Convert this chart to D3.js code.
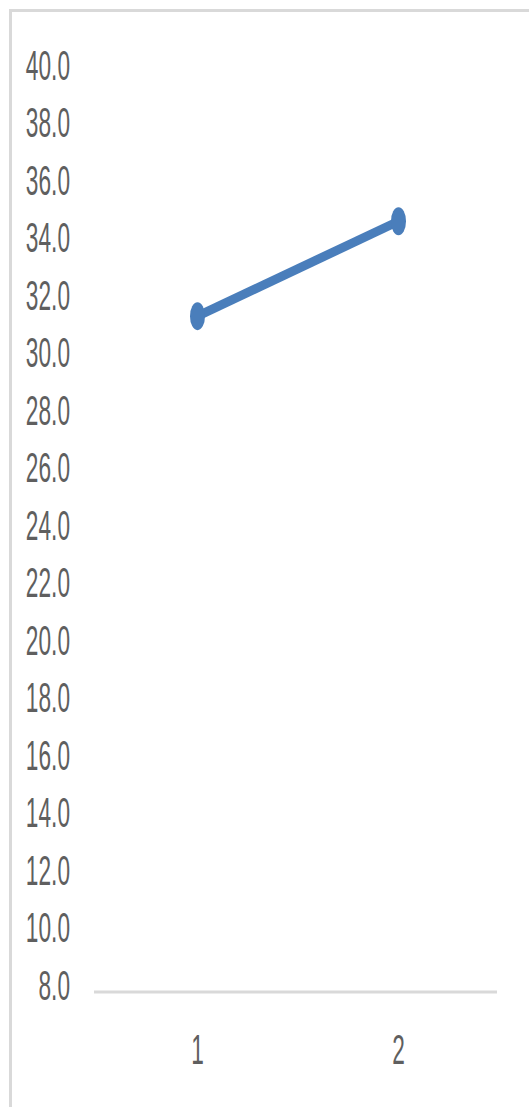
<!DOCTYPE html>
<html>
<head>
<meta charset="utf-8">
<script src="https://cdnjs.cloudflare.com/ajax/libs/d3/7.8.5/d3.min.js"></script>
<style>
body{margin:0;background:#fff;}
svg{display:block;}
.axis text{font-family:"Liberation Sans",Arial,sans-serif;font-size:42px;fill:#5f5f5f;}
</style>
</head>
<body>
<svg width="529" height="1107"></svg>
<script>
var categories = ["1", "2"];
var values = [31.3, 34.6];
var yTicks = d3.range(8, 40.1, 2);

var svg = d3.select('svg');
var squeeze = 0.54;

// chart frame (only top and left edges fall inside the picture)
svg.append('rect')
.attr('x', 10.5).attr('y', 10.5)
.attr('width', 540).attr('height', 1120)
.attr('fill', 'none')
.attr('stroke', '#d9d9d9')
.attr('stroke-width', 3);

var yScale = d3.scaleLinear()
.domain([8, 40])
.range([986, 66]);

var xScale = d3.scaleBand()
.domain(categories)
.range([97, 499]);

var yaxis = d3.axisLeft(yScale)
.tickValues(yTicks)
.tickSize(0)
.tickFormat(d3.format('.1f'));

var gy = svg.append('g')
.attr('class', 'axis')
.attr('transform', 'translate(74,0)')
.call(yaxis);
gy.select('.domain').remove();
gy.selectAll('text')
.attr('x', -4 / squeeze)
.attr('transform', 'scale(' + squeeze + ',1)');

// base line
var baseY = yScale(8) + 6;
svg.append('line')
.attr('x1', 94).attr('x2', 497)
.attr('y1', baseY).attr('y2', baseY)
.attr('stroke', '#d9d9d9')
.attr('stroke-width', 3);

var xaxis = d3.axisBottom(xScale)
.tickSize(0)
.tickPadding(42);

var gx = svg.append('g')
.attr('class', 'axis')
.attr('transform', 'translate(0,' + baseY + ')')
.call(xaxis);
gx.select('.domain').remove();
gx.selectAll('text')
.attr('transform', 'scale(' + squeeze + ',1)');

var pts = categories.map(function(c, i){
  return [xScale(c) + xScale.bandwidth() / 2, yScale(values[i])];
});

svg.append('path')
.attr('d', d3.line()(pts))
.attr('fill', 'none')
.attr('stroke', '#4a7ebb')
.attr('stroke-width', 9);

svg.selectAll('ellipse')
.data(pts)
.enter()
.append('ellipse')
.attr('cx', function(d){ return d[0]; })
.attr('cy', function(d){ return d[1]; })
.attr('rx', 7.5)
.attr('ry', 14)
.attr('fill', '#4a7ebb');
</script>
</body>
</html>
